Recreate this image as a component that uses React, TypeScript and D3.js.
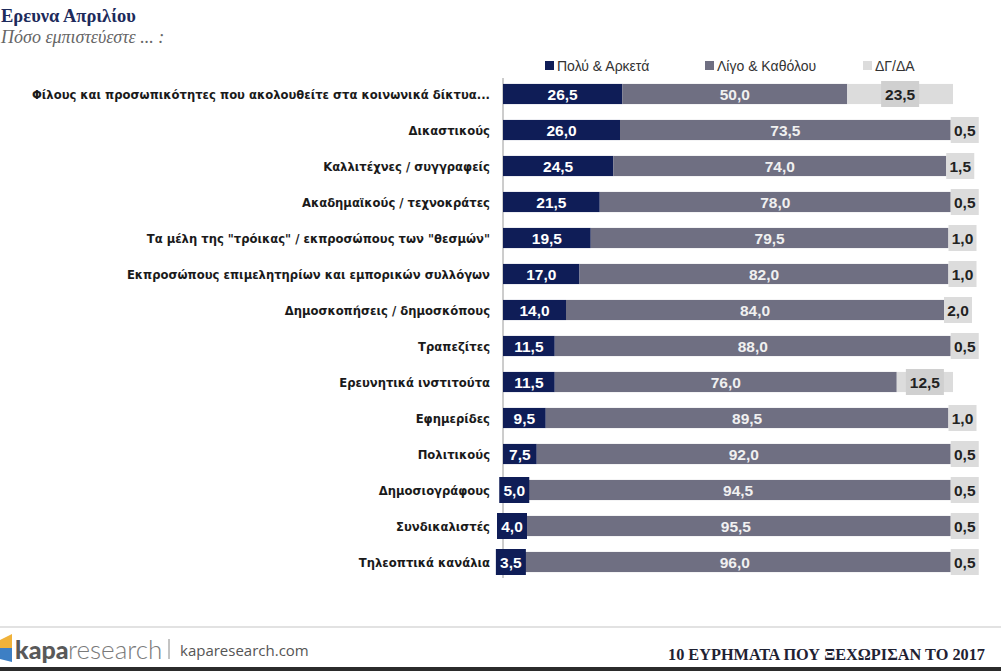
import React from "react";
import * as d3 from "d3";

const categories = [
  "Φίλους και προσωπικότητες που ακολουθείτε στα κοινωνικά δίκτυα...",
  "Δικαστικούς",
  "Καλλιτέχνες / συγγραφείς",
  "Ακαδημαϊκούς / τεχνοκράτες",
  'Τα μέλη της "τρόικας" / εκπροσώπους των "θεσμών"',
  "Εκπροσώπους επιμελητηρίων και εμπορικών συλλόγων",
  "Δημοσκοπήσεις / δημοσκόπους",
  "Τραπεζίτες",
  "Ερευνητικά ινστιτούτα",
  "Εφημερίδες",
  "Πολιτικούς",
  "Δημοσιογράφους",
  "Συνδικαλιστές",
  "Τηλεοπτικά κανάλια",
];

const muchValues = [26.5, 26.0, 24.5, 21.5, 19.5, 17.0, 14.0, 11.5, 11.5, 9.5, 7.5, 5.0, 4.0, 3.5];
const littleValues = [50.0, 73.5, 74.0, 78.0, 79.5, 82.0, 84.0, 88.0, 76.0, 89.5, 92.0, 94.5, 95.5, 96.0];
const dkValues = [23.5, 0.5, 1.5, 0.5, 1.0, 1.0, 2.0, 0.5, 12.5, 1.0, 0.5, 0.5, 0.5, 0.5];

const seriesNames = ["Πολύ & Αρκετά", "Λίγο & Καθόλου", "ΔΓ/ΔΑ"];
const seriesColors = ["#0f1d57", "#6f6f82", "#dcdcdc"];

const W = 1001;
const H = 671;

const fmt = (v: number) => v.toFixed(1).replace(".", ",");

export default function App() {
  const x = d3.scaleLinear().domain([0, 100]).range([503, 953]);
  const y = d3
    .scaleBand<string>()
    .domain(categories)
    .range([76, 580])
    .paddingInner(0.44)
    .paddingOuter(0.22);
  const bh = y.bandwidth();

  const valueFont = "'Liberation Sans', Arial, sans-serif";

  return (
    <svg
      width={W}
      height={H}
      style={{ position: "absolute", left: 0, top: 0, background: "#fff" }}
    >
      {/* title */}
      <text x={1} y={22} fontFamily="'Liberation Serif', serif" fontWeight="bold" fontSize={18.5} fill="#1d2b5c">
        Ερευνα Απριλίου
      </text>
      <text x={1} y={43} fontFamily="'Liberation Serif', serif" fontStyle="italic" fontSize={18} fill="#666">
        Πόσο εμπιστεύεστε ... :
      </text>

      {/* legend */}
      {seriesNames.map((name, i) => {
        const lx = [545, 705, 863][i];
        return (
          <g key={name}>
            <rect x={lx} y={61} width={9} height={9} fill={seriesColors[i]} />
            <text x={lx + 12} y={70.5} fontFamily={valueFont} fontSize={14} fill="#333">
              {name}
            </text>
          </g>
        );
      })}

      {/* axis line */}
      <line x1={503} x2={503} y1={78} y2={578} stroke="#9a9a9a" strokeWidth={1} />

      {categories.map((c, i) => {
        const yc = (y(c) ?? 0) + bh / 2;
        const a = muchValues[i];
        const b = littleValues[i];
        const d = dkValues[i];
        const x0 = x(0);
        const x1 = x(a);
        const x2 = x(a + b);
        const x3 = x(a + b + d);
        const top = yc - bh / 2;
        const darkW = x1 - x0;
        const darkBox = darkW < 30;
        const darkCx = (x0 + x1) / 2;
        const lightW = x3 - x2;
        const lightWide = lightW > 40;
        const lbW = lightWide ? 38 : 28;
        const lbX = lightWide ? (x2 + x3) / 2 - lbW / 2 : x2;
        return (
          <g key={c}>
            <text
              x={490}
              y={yc + 4.5}
              textAnchor="end"
              fontFamily="'DejaVu Sans', Tahoma, sans-serif"
              fontWeight="bold"
              fontSize={11.6}
              fill="#1a1a1a"
            >
              {c}
            </text>
            <rect x={x0} y={top} width={x1 - x0} height={bh} fill={seriesColors[0]} />
            <rect x={x1} y={top} width={x2 - x1} height={bh} fill={seriesColors[1]} />
            <rect x={x2} y={top} width={x3 - x2} height={bh} fill={seriesColors[2]} />
            {darkBox && (
              <rect x={darkCx - 15} y={yc - 13} width={30} height={26} fill={seriesColors[0]} />
            )}
            <text
              x={darkCx}
              y={yc + 5.5}
              textAnchor="middle"
              fontFamily={valueFont}
              fontWeight="bold"
              fontSize={15.5}
              fill="#fff"
            >
              {fmt(a)}
            </text>
            <text
              x={(x1 + x2) / 2}
              y={yc + 5.5}
              textAnchor="middle"
              fontFamily={valueFont}
              fontWeight="bold"
              fontSize={15.5}
              fill="#f0f0f0"
            >
              {fmt(b)}
            </text>
            <rect
              x={lbX}
              y={yc - 13}
              width={lbW}
              height={26}
              fill={lightWide ? "#d0d0d0" : "#dcdcdc"}
            />
            <text
              x={lbX + lbW / 2}
              y={yc + 5.5}
              textAnchor="middle"
              fontFamily={valueFont}
              fontWeight="bold"
              fontSize={15.5}
              fill="#222"
            >
              {fmt(d)}
            </text>
          </g>
        );
      })}

      {/* footer */}
      <line x1={0} x2={W} y1={627} y2={627} stroke="#d8d8d8" strokeWidth={1.5} />
      <polygon points="0,640 12,634 12,648 0,648" fill="#f0b23a" />
      <polygon points="0,648 12,648 12,662 0,659" fill="#3d7fc4" />
      <text x={15} y={659} fontFamily="Lato, sans-serif" fontWeight={900} fontSize={25} fill="#595959">
        kapa
      </text>
      <text x={68} y={659} fontFamily="Lato, sans-serif" fontWeight={300} fontSize={26} fill="#7a7a7a">
        research
      </text>
      <line x1={169} x2={169} y1={639} y2={659} stroke="#888" strokeWidth={1} />
      <text x={180} y={656} fontFamily="'Open Sans', sans-serif" fontSize={15} fill="#555">
        kaparesearch.com
      </text>
      <text
        x={668}
        y={660}
        fontFamily="'Liberation Serif', serif"
        fontWeight="bold"
        fontSize={17}
        fill="#1f2233"
        textLength={317}
        lengthAdjust="spacingAndGlyphs"
      >
        10 ΕΥΡΗΜΑΤΑ ΠΟΥ ΞΕΧΩΡΙΣΑΝ ΤΟ 2017
      </text>
      <rect x={0} y={667} width={W} height={4} fill="#2b2b2b" />
    </svg>
  );
}
